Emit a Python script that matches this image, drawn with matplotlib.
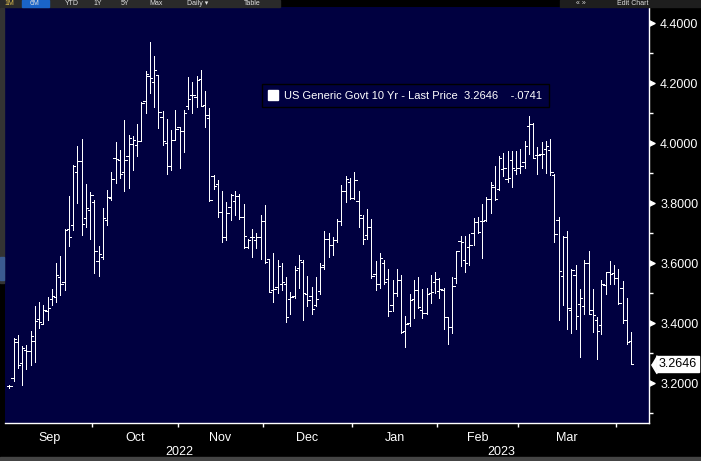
import numpy as np
import matplotlib
matplotlib.use('Agg')
import matplotlib.pyplot as plt
import matplotlib.transforms as mtransforms
from matplotlib.collections import LineCollection
from matplotlib.lines import Line2D
from matplotlib.patches import Rectangle
from matplotlib.ticker import FixedLocator, MultipleLocator, NullFormatter

plt.rcParams['font.family'] = ['Liberation Sans', 'DejaVu Sans']

# daily bars, US Generic Govt 10 Yr (Sep 2022 - early Apr 2023)
opens = [3.190, 3.218, 3.339, 3.267, 3.313, 3.309, 3.342, 3.415, 3.397, 3.441,
         3.483, 3.488, 3.556, 3.538, 3.715, 3.729, 3.906, 3.941, 3.751, 3.779,
         3.806, 3.609, 3.620, 3.746, 3.817, 3.952, 3.946, 3.904, 3.959, 3.999,
         3.994, 4.008, 4.140, 4.224, 4.205, 4.227, 4.087, 4.003, 3.924, 4.012,
         4.054, 4.041, 4.125, 4.162, 4.154, 4.216, 4.127, 4.085, 3.893, 3.864,
         3.771, 3.689, 3.787, 3.809, 3.826, 3.756, 3.656, 3.689, 3.678, 3.689,
         3.742, 3.616, 3.510, 3.520, 3.532, 3.530, 3.480, 3.490, 3.585, 3.605,
         3.497, 3.492, 3.462, 3.508, 3.594, 3.680, 3.663, 3.678, 3.740, 3.840,
         3.873, 3.818, 3.809, 3.751, 3.694, 3.723, 3.566, 3.530, 3.603, 3.548,
         3.460, 3.500, 3.546, 3.376, 3.400, 3.480, 3.510, 3.444, 3.435, 3.502,
         3.537, 3.508, 3.510, 3.420, 3.387, 3.552, 3.676, 3.610, 3.656, 3.703,
         3.738, 3.742, 3.745, 3.816, 3.855, 3.849, 3.915, 3.880, 3.944, 3.913,
         3.917, 3.937, 4.057, 4.065, 3.960, 3.966, 3.981, 3.979, 3.895, 3.745,
         3.557, 3.687, 3.446, 3.563, 3.464, 3.457, 3.601, 3.444, 3.413, 3.395,
         3.528, 3.570, 3.568, 3.550, 3.517, 3.411, 3.340]
highs = [3.195, 3.350, 3.362, 3.326, 3.328, 3.375, 3.459, 3.472, 3.463, 3.488,
         3.516, 3.600, 3.625, 3.715, 3.826, 3.928, 3.992, 4.014, 3.866, 3.839,
         3.813, 3.658, 3.786, 3.844, 3.906, 4.006, 3.979, 4.078, 4.028, 4.025,
         4.065, 4.138, 4.240, 4.337, 4.291, 4.229, 4.109, 4.083, 4.045, 4.112,
         4.054, 4.112, 4.220, 4.205, 4.224, 4.244, 4.176, 4.118, 3.895, 3.879,
         3.842, 3.804, 3.831, 3.840, 3.831, 3.798, 3.680, 3.716, 3.703, 3.762,
         3.795, 3.616, 3.634, 3.610, 3.601, 3.554, 3.504, 3.592, 3.627, 3.610,
         3.559, 3.523, 3.554, 3.601, 3.707, 3.700, 3.689, 3.749, 3.860, 3.893,
         3.886, 3.906, 3.840, 3.762, 3.780, 3.749, 3.608, 3.636, 3.610, 3.581,
         3.546, 3.581, 3.561, 3.426, 3.499, 3.544, 3.555, 3.515, 3.519, 3.561,
         3.570, 3.550, 3.517, 3.422, 3.555, 3.643, 3.692, 3.692, 3.698, 3.751,
         3.754, 3.798, 3.820, 3.873, 3.926, 3.957, 3.968, 3.975, 3.975, 3.975,
         3.981, 4.008, 4.092, 4.068, 3.988, 4.006, 4.008, 4.015, 3.897, 3.756,
         3.690, 3.707, 3.583, 3.594, 3.515, 3.610, 3.643, 3.515, 3.422, 3.544,
         3.572, 3.608, 3.594, 3.581, 3.541, 3.484, 3.371]
lows = [3.186, 3.207, 3.251, 3.196, 3.247, 3.260, 3.273, 3.384, 3.397, 3.412,
        3.463, 3.470, 3.496, 3.512, 3.658, 3.713, 3.802, 3.695, 3.722, 3.682,
        3.569, 3.558, 3.614, 3.729, 3.813, 3.868, 3.884, 3.842, 3.851, 3.910,
        3.959, 4.008, 4.101, 4.169, 4.123, 4.052, 3.994, 3.897, 3.910, 4.012,
        3.917, 3.970, 4.116, 4.103, 4.123, 4.125, 4.056, 3.809, 3.849, 3.756,
        3.672, 3.678, 3.745, 3.762, 3.747, 3.650, 3.650, 3.623, 3.650, 3.614,
        3.601, 3.504, 3.473, 3.500, 3.512, 3.404, 3.433, 3.486, 3.517, 3.413,
        3.459, 3.431, 3.459, 3.497, 3.583, 3.620, 3.628, 3.672, 3.729, 3.804,
        3.816, 3.816, 3.723, 3.665, 3.681, 3.552, 3.510, 3.519, 3.530, 3.424,
        3.440, 3.490, 3.367, 3.320, 3.393, 3.418, 3.453, 3.418, 3.433, 3.468,
        3.502, 3.486, 3.382, 3.333, 3.367, 3.535, 3.592, 3.572, 3.594, 3.663,
        3.700, 3.619, 3.743, 3.769, 3.813, 3.844, 3.891, 3.871, 3.855, 3.897,
        3.902, 3.917, 3.964, 3.950, 3.897, 3.919, 3.900, 3.895, 3.672, 3.413,
        3.460, 3.382, 3.367, 3.380, 3.287, 3.433, 3.431, 3.373, 3.280, 3.364,
        3.497, 3.533, 3.533, 3.466, 3.400, 3.333, 3.265]
closes = [3.190, 3.349, 3.260, 3.317, 3.309, 3.357, 3.408, 3.404, 3.446, 3.450,
          3.490, 3.563, 3.532, 3.713, 3.687, 3.925, 3.943, 3.733, 3.786, 3.828,
          3.640, 3.631, 3.753, 3.821, 3.881, 3.948, 3.899, 3.946, 4.019, 4.012,
          4.008, 4.136, 4.231, 4.218, 4.244, 4.105, 4.008, 3.926, 4.012, 4.048,
          4.041, 4.101, 4.147, 4.160, 4.213, 4.125, 4.094, 3.811, 3.857, 3.771,
          3.689, 3.767, 3.829, 3.826, 3.756, 3.692, 3.678, 3.689, 3.689, 3.742,
          3.606, 3.506, 3.515, 3.590, 3.537, 3.420, 3.488, 3.577, 3.612, 3.501,
          3.479, 3.448, 3.482, 3.588, 3.683, 3.660, 3.678, 3.740, 3.842, 3.880,
          3.818, 3.877, 3.760, 3.683, 3.723, 3.559, 3.530, 3.619, 3.539, 3.442,
          3.500, 3.546, 3.371, 3.398, 3.479, 3.510, 3.455, 3.435, 3.497, 3.506,
          3.548, 3.515, 3.420, 3.387, 3.524, 3.641, 3.670, 3.603, 3.663, 3.738,
          3.705, 3.742, 3.816, 3.860, 3.816, 3.953, 3.919, 3.884, 3.917, 3.917,
          3.924, 3.992, 4.065, 3.953, 3.963, 3.966, 3.990, 3.906, 3.698, 3.575,
          3.687, 3.453, 3.577, 3.426, 3.484, 3.601, 3.433, 3.429, 3.376, 3.530,
          3.570, 3.566, 3.550, 3.468, 3.411, 3.3387, 3.2646]

month_names = ['Sep', 'Oct', 'Nov', 'Dec', 'Jan', 'Feb', 'Mar', 'Apr']
month_days = [20, 20, 20, 21, 20, 19, 23, 4]   # trading days shown per month
years = ['2022', '2023']
year_months = [4, 4]                             # months of each year on the axis
y_major = [3.2, 3.4, 3.6, 3.8, 4.0, 4.2, 4.4]
series_name = 'US Generic Govt 10 Yr - Last Price'

toolbar_left = ['1M', '6M', 'YTD', '1Y', '5Y', 'Max', 'Daily \u25be', 'Table']
toolbar_right = ['\u00ab \u00bb', 'Edit Chart']

bg = '#000040'
W, H = 701, 461

fig = plt.figure(figsize=(W / 100, H / 100), dpi=100, facecolor='black')
ax = fig.add_axes([5 / W, 1 - 423.3 / H, 644 / W, (423.3 - 7.5) / H])
ax.set_facecolor(bg)

# OHLC bars
n = len(closes)
x = np.arange(n)
segs = []
for i in range(n):
    segs.append([(x[i], lows[i]), (x[i], highs[i])])
    segs.append([(x[i] - 0.55, opens[i]), (x[i], opens[i])])
    segs.append([(x[i], closes[i]), (x[i] + 0.55, closes[i])])
ax.add_collection(LineCollection(segs, colors='white', linewidths=0.6,
                                 antialiaseds=False))

ax.set_xlim(-1.0, 150.2)
ax.set_ylim(3.067, 4.453)

for s in ['left', 'top']:
    ax.spines[s].set_visible(False)
for s in ['right', 'bottom']:
    ax.spines[s].set_color('white')
    ax.spines[s].set_linewidth(1.0)

# x axis: ticks at month ends, month names centred in each month
ends = np.cumsum(month_days)
starts = ends - np.array(month_days)
bounds = ends[:-1] - 0.5
centers = (starts + ends - 1) / 2.0
ax.xaxis.set_major_locator(FixedLocator(bounds))
ax.xaxis.set_major_formatter(NullFormatter())
ax.xaxis.set_minor_locator(FixedLocator(centers[:-1]))
ax.set_xticklabels(month_names[:-1], minor=True)
ax.tick_params(axis='x', which='major', length=3, width=1, color='white',
               direction='out')
ax.tick_params(axis='x', which='minor', length=0, pad=6, labelsize=9,
               labelcolor='white')

# year labels
ym = np.cumsum(year_months)
year_start = [0, ends[ym[0] - 1]]
year_end = [ends[ym[0] - 1] - 1, ax.get_xlim()[1]]
for yr, a, b in zip(years, year_start, year_end):
    ax.annotate(yr, xy=((a + b) / 2.0, 0), xycoords=('data', 'axes fraction'),
                xytext=(0, -29), textcoords='offset pixels', ha='center',
                va='center', color='white', fontsize=9)

# y axis on the right
ax.yaxis.tick_right()
ax.yaxis.set_major_locator(FixedLocator(y_major))
ax.set_yticklabels(['%.4f' % v for v in y_major])
ax.yaxis.set_minor_locator(MultipleLocator(0.1))
ax.tick_params(axis='y', which='major', length=0, pad=8, labelsize=9,
               labelcolor='white')
ax.tick_params(axis='y', which='minor', length=3, width=1, color='white',
               direction='out')
tri = [(0, -0.5), (1, 0), (0, 0.5)]
ax.plot([1] * len(y_major), y_major, transform=ax.get_yaxis_transform(),
        marker=tri, ms=8, ls='none', color='white', clip_on=False)

# last price tag
last = closes[-1]
tag = [(0, 0), (0.6, -1), (0.6, 1)]
ax.plot([1], [last], transform=mtransforms.offset_copy(
    ax.get_yaxis_transform(), fig=fig, x=2, units='dots'),
    marker=tag, ms=13, ls='none', color='white', clip_on=False)
ax.annotate('%.4f' % last, xy=(1, last), xycoords=ax.get_yaxis_transform(),
            xytext=(10, 0), textcoords='offset pixels', ha='left',
            va='center', color='black', fontsize=9,
            bbox=dict(boxstyle='square,pad=0.15', fc='white', ec='white'))

# legend
chg = closes[-1] - closes[-2]
chg_txt = ('%.4f' % chg).replace('0.', '.', 1)
label = '%s  %.4f    %s' % (series_name, last, chg_txt)
handle = Line2D([], [], marker='s', color='white', ls='none', ms=6.5)
leg = ax.legend([handle], [label], loc='upper left',
                bbox_to_anchor=(0.399, 0.816), frameon=True, fancybox=False,
                edgecolor='black', facecolor=bg, framealpha=1, fontsize=8,
                labelcolor='white', handlelength=0.8, handletextpad=0.6,
                borderpad=0.6, borderaxespad=0)
leg.get_frame().set_linewidth(1.0)

# screen chrome: toolbar, side strip, bottom band
fig.patches.append(Rectangle((0, 1 - 7.5 / H), 280 / W, 7.5 / H,
                             transform=fig.transFigure, color='#2a2a2a'))
fig.patches.append(Rectangle((560 / W, 1 - 7.5 / H), 141 / W, 7.5 / H,
                             transform=fig.transFigure, color='#1e1e1e'))
fig.patches.append(Rectangle((22 / W, 1 - 7.5 / H), 27 / W, 7.5 / H,
                             transform=fig.transFigure, color='#1a64c8'))
fig.patches.append(Rectangle((0, 1 - 283 / H), 4 / W, 275 / H,
                             transform=fig.transFigure, color='#333333'))
fig.patches.append(Rectangle((0, 1 - 280 / H), 4 / W, 23 / H,
                             transform=fig.transFigure, color='#3a5a90'))
fig.patches.append(Rectangle((0, 0), 1, 4 / H, transform=fig.transFigure,
                             color='#444444'))
tb_x = [9, 35, 72, 98, 125, 156, 198, 252]
for t, px in zip(toolbar_left, tb_x):
    fig.text(px / W, 1 - 3.9 / H, t, ha='center', va='center', fontsize=5,
             color='#e0e0e0' if t != '1M' else '#e0c050')
for t, px in zip(toolbar_right, [581, 633]):
    fig.text(px / W, 1 - 3.9 / H, t, ha='center', va='center', fontsize=5,
             color='#e0e0e0')

plt.savefig('out.png', dpi=100, facecolor=fig.get_facecolor())
